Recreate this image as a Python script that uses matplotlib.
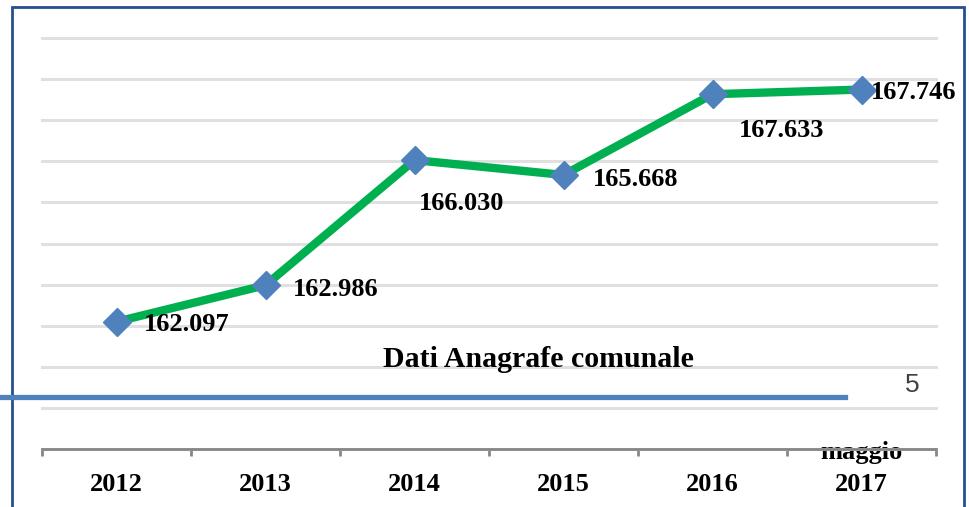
import matplotlib.pyplot as plt
from matplotlib.patches import Rectangle
from matplotlib.lines import Line2D

# Data
anni = ['2012', '2013', '2014', '2015', '2016', 'maggio\n2017']
residenti = [162097, 162986, 166030, 165668, 167633, 167746]
etichette = ['162.097', '162.986', '166.030', '165.668', '167.633', '167.746']
# label offsets in points (dx, dy) and alignment
offsets = [(20, -2, 'left'), (20, -3, 'left'), (34, -31, 'center'),
           (21, -3, 'left'), (50, -26, 'center'), (7, -2, 'left')]

plt.rcParams['font.family'] = ['Liberation Serif', 'DejaVu Serif']

fig = plt.figure(figsize=(9.70, 5.07), dpi=100)
ax = fig.add_axes([0.0433, 0.1144, 0.9217, 0.8106])

x = list(range(len(anni)))
ax.plot(x, residenti, color='#00B050', linewidth=6, solid_capstyle='round', zorder=3)
ax.plot(x, residenti, linestyle='none', marker='D', markersize=14,
        color='#4F81BD', zorder=4)

for xi, yi, lab, (dx, dy, ha) in zip(x, residenti, etichette, offsets):
    ax.annotate(lab, (xi, yi), xytext=(dx, dy), textcoords='offset points',
                ha=ha, va='center', fontsize=19, fontweight='bold', zorder=5)

ax.set_xlim(-0.5, len(anni) - 0.5)
ax.set_ylim(159000, 169000)
ax.set_yticks(range(159000, 169001, 1000))
ax.tick_params(axis='y', left=False, labelleft=False)
ax.yaxis.grid(True, color='#E0E0E0', linewidth=2.2)
for gl in ax.get_ygridlines():
    gl.set_clip_on(False)

# category boundaries as major ticks, labels on minor ticks
ax.set_xticks([i - 0.5 for i in range(len(anni) + 1)])
ax.set_xticklabels([])
ax.set_xticks(x, minor=True)
ax.set_xticklabels(anni, minor=True, fontsize=19, fontweight='bold', va='bottom')
for t in ax.get_xticklabels(minor=True):
    t.set_linespacing(1.5)
ax.tick_params(axis='x', which='major', length=5, width=2, color='#868686', direction='out')
ax.tick_params(axis='x', which='minor', length=0, pad=34)

for s in ['top', 'right', 'left']:
    ax.spines[s].set_visible(False)
ax.spines['bottom'].set_color('#868686')
ax.spines['bottom'].set_linewidth(2)

# frame, slide line and notes
fig.patches.append(Rectangle((0.0124, -0.02), 0.9814, 1.006, transform=fig.transFigure,
                             fill=False, edgecolor='#24508F', linewidth=2))
fig.lines.append(Line2D([0, 0.8715], [0.217, 0.217], transform=fig.transFigure,
                        color='#4F81BD', linewidth=3.8))
fig.text(0.5546, 0.290, 'Dati Anagrafe comunale', ha='center', va='center',
         fontsize=21.5, fontweight='bold')
fig.text(0.940, 0.241, '5', ha='center', va='center', fontsize=19,
         family='Liberation Sans', color='#404040')

fig.savefig('out.png', dpi=100)
